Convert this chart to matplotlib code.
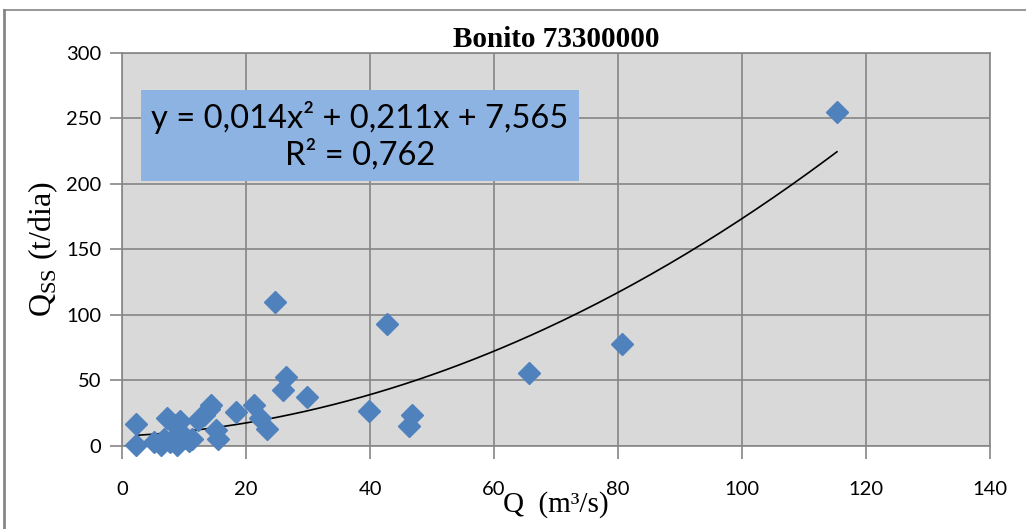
import numpy as np
import matplotlib.pyplot as plt
from matplotlib.lines import Line2D

# data
q = [2.3, 2.3, 5.2, 6.2, 6.8, 7.3, 7.8, 8.5, 8.8, 9.3, 9.5, 10.2, 10.8, 11.3,
     12.3, 13.2, 14.0, 14.4, 15.2, 15.5, 18.3, 21.2, 22.2, 23.4, 24.6, 26.0,
     26.5, 29.8, 39.9, 42.7, 46.3, 46.7, 65.6, 80.6, 115.3]
qss = [17, 1, 3, 1, 5, 21, 3, 16, 1, 19, 10, 6, 4, 5,
       20, 24, 28, 31, 12, 5, 26, 31, 21, 13, 110, 43,
       53, 37, 27, 93, 15, 24, 56, 78, 255]

# trendline coefficients (shown rounded in the label)
c2, c1, c0 = 0.01449, 0.211, 7.565

grid_col = '#868686'

fig = plt.figure(figsize=(10.26, 5.29), dpi=100)
ax = fig.add_axes([0.119, 0.157, 0.846, 0.743])
ax.set_facecolor('#D9D9D9')

ax.set_xlim(0, 140)
ax.set_ylim(0, 300)
ax.set_xticks(np.arange(0, 141, 20))
ax.set_yticks(np.arange(0, 301, 50))
ax.grid(True, color=grid_col, linewidth=1.2)
ax.set_axisbelow(True)

for s in ax.spines.values():
    s.set_color(grid_col)
    s.set_linewidth(1.2)

ax.tick_params(axis='both', colors=grid_col, length=9, width=1.2,
               labelcolor='black', labelsize=14.5)
ax.tick_params(axis='x', pad=16)
ax.tick_params(axis='y', pad=6)
for lab in ax.get_xticklabels() + ax.get_yticklabels():
    lab.set_family('Lato')

# trend curve
xs = np.linspace(min(q), max(q), 200)
ax.plot(xs, c2 * xs**2 + c1 * xs + c0, color='black', linewidth=1.2, zorder=3)

ax.plot(q, qss, linestyle='none', marker='D', markersize=11,
        color='#4F81BD', markeredgecolor='#4F81BD', zorder=4, clip_on=False)

ax.set_title('Bonito 73300000', fontfamily='Liberation Serif',
             fontweight='bold', fontsize=21, pad=4)
ax.set_xlabel('Q  (m³/s)', fontfamily='Liberation Serif', fontsize=21,
              labelpad=-5)
ax.set_ylabel(r'Q$_{\mathregular{SS}}$ (t/dia)', fontfamily='Liberation Serif',
              fontsize=23, labelpad=4)

# equation box
ax.text(0.274, 0.79,
        'y = 0,014x² + 0,211x + 7,565\nR² = 0,762',
        transform=ax.transAxes, ha='center', va='center', fontsize=23.5,
        fontfamily='Lato', linespacing=1.2, zorder=5,
        bbox=dict(boxstyle='square,pad=0.33', facecolor='#8DB3E2',
                  edgecolor='none'))

# outer chart frame
fig.add_artist(Line2D([4 / 1026, 4 / 1026], [0, 1 - 10 / 529],
                      transform=fig.transFigure, color=grid_col, linewidth=2))
fig.add_artist(Line2D([4 / 1026, 1], [1 - 10 / 529, 1 - 10 / 529],
                      transform=fig.transFigure, color=grid_col, linewidth=1.2))

fig.savefig('out.png', dpi=100)
